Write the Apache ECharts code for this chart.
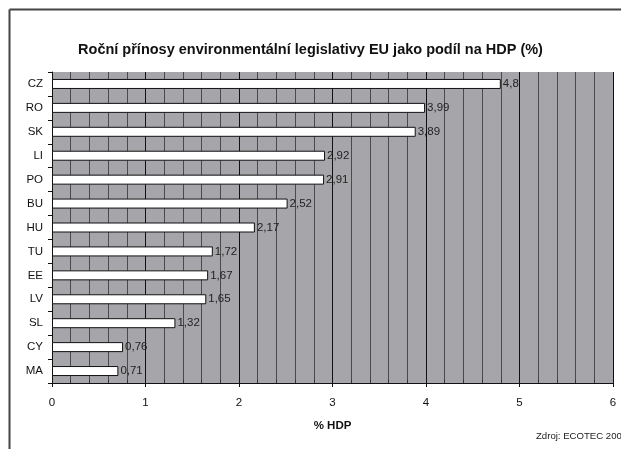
<!DOCTYPE html>
<html>
<head>
<meta charset="utf-8">
<script src="https://cdn.jsdelivr.net/npm/echarts@6/dist/echarts.min.js"></script>
<style>
html, body { margin: 0; padding: 0; background: #fff; }
#main { width: 621px; height: 449px; }
</style>
</head>
<body>
<div id="main"></div>
<script>
// data
var countries = ['CZ', 'RO', 'SK', 'LI', 'PO', 'BU', 'HU', 'TU', 'EE', 'LV', 'SL', 'CY', 'MA'];
var values = [4.8, 3.99, 3.89, 2.92, 2.91, 2.52, 2.17, 1.72, 1.67, 1.65, 1.32, 0.76, 0.71];
var xTicks = [0, 1, 2, 3, 4, 5, 6];

var myChart = echarts.init(document.getElementById('main'));

var option = {
    animation: false,
    textStyle: { fontFamily: 'Liberation Sans, Arial, sans-serif' },
    title: {
        text: 'Roční přínosy environmentální legislativy EU jako podíl na HDP (%)',
        left: 'center',
        top: 37,
        textStyle: { fontSize: 14.5, fontWeight: 'bold', color: '#111' }
    },
    grid: {
        left: 52, right: 8, top: 72, bottom: 66,
        show: true,
        backgroundColor: '#a6a6aa',
        borderWidth: 0
    },
    xAxis: {
        type: 'value',
        min: xTicks[0],
        max: xTicks[xTicks.length - 1],
        interval: 1,
        name: '% HDP',
        nameLocation: 'middle',
        nameGap: 37,
        nameTextStyle: { fontSize: 11.5, fontWeight: 'bold', color: '#111' },
        axisLine: { show: true, lineStyle: { color: '#111', width: 1 } },
        axisTick: { show: true, length: 4, lineStyle: { color: '#111' } },
        axisLabel: { fontSize: 11.5, color: '#111', margin: 14 },
        splitLine: { show: true, lineStyle: { color: '#111', width: 1 } },
        minorTick: { show: true, splitNumber: 5, length: -3, lineStyle: { color: '#333' } },
        minorSplitLine: { show: true, lineStyle: { color: '#4a4a4a', width: 1 } }
    },
    yAxis: {
        type: 'category',
        inverse: true,
        data: countries,
        axisLine: { show: true, lineStyle: { color: '#111', width: 1 } },
        axisTick: { show: true, length: 4, lineStyle: { color: '#111' } },
        axisLabel: { fontSize: 11.5, color: '#111', margin: 9 },
        splitLine: { show: false }
    },
    series: [{
        type: 'bar',
        data: values,
        barWidth: 10,
        itemStyle: { color: '#fff', borderColor: '#111', borderWidth: 1 },
        label: {
            show: true,
            position: 'right',
            distance: 2,
            fontSize: 11.5,
            color: '#222',
            formatter: function (p) { return String(p.value).replace('.', ','); }
        }
    }],
    graphic: [
        { type: 'line', shape: { x1: 9.5, y1: 9.5, x2: 621, y2: 9.5 }, style: { stroke: '#444', lineWidth: 2 } },
        { type: 'line', shape: { x1: 9.5, y1: 9.5, x2: 9.5, y2: 449 }, style: { stroke: '#444', lineWidth: 2 } },
        { type: 'text', left: 536, top: 431, style: { text: 'Zdroj: ECOTEC 200', fontSize: 9.6, fill: '#222', fontFamily: 'Liberation Sans, Arial, sans-serif' } }
    ]
};

myChart.setOption(option);
</script>
</body>
</html>
